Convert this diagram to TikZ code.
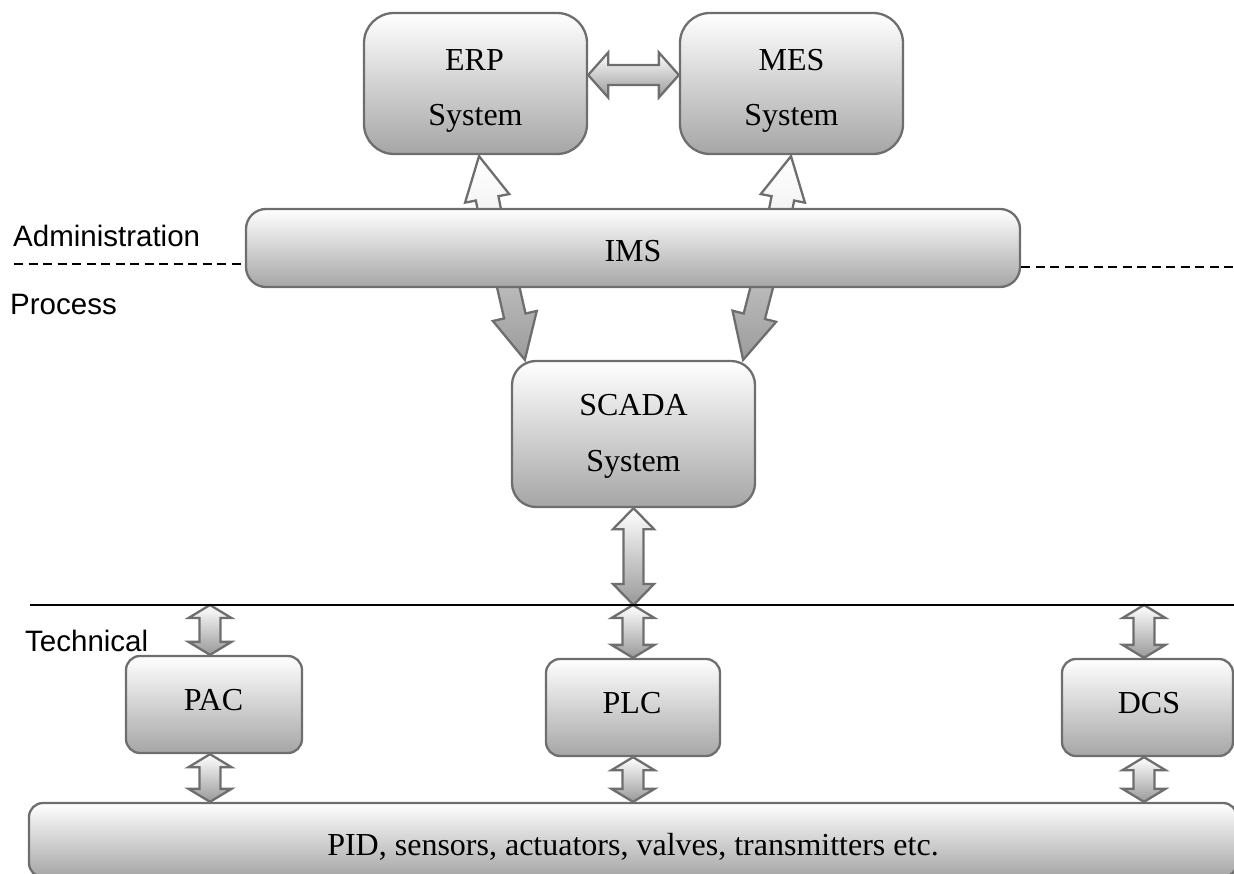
\documentclass[tikz,border=0pt]{standalone}
\usepackage{fontspec}
\setmainfont{Liberation Serif}
\newfontfamily\sidefont{Liberation Sans}
\usetikzlibrary{calc,backgrounds}

\definecolor{edgegray}{HTML}{6E6E6E}

\tikzset{
  box/.style={draw=edgegray, line width=2.3pt, rounded corners=#1,
    top color=white, bottom color=gray!70, inner sep=0pt},
  boxtext/.style={font=\fontsize{32}{38}\selectfont, inner sep=0pt, anchor=base},
  sidetext/.style={font=\sidefont\fontsize{29.5}{35}\selectfont, inner sep=0pt, anchor=base west},
  arrowedge/.style={draw=edgegray, line width=2.3pt, line join=miter},
  palearrow/.style={arrowedge, top color=white, bottom color=gray!14},
  darkarrow/.style={arrowedge, top color=gray!42, bottom color=gray!78},
  linkarrow/.style={arrowedge, top color=white, bottom color=gray!80},
  divider/.style={line width=2.2pt, black},
}

% block arrow with one head: style, tail, tip, shaft half width, head half width, head length
\newcommand\oneway[6]{%
  \coordinate (ow-base) at ($(#3)!#6!(#2)$);
  \path[#1] ($(#2)!#4!90:(#3)$) -- ($(ow-base)!#4!90:(#3)$)
    -- ($(ow-base)!#5!90:(#3)$) -- (#3)
    -- ($(ow-base)!#5!-90:(#3)$) -- ($(ow-base)!#4!-90:(#3)$)
    -- ($(#2)!#4!-90:(#3)$) -- cycle;
}
% block arrow with a head at both ends
\newcommand\twoway[6]{%
  \coordinate (tw-a) at ($(#2)!#6!(#3)$);
  \coordinate (tw-b) at ($(#3)!#6!(#2)$);
  \path[#1] (#2) -- ($(tw-a)!#5!90:(#3)$) -- ($(tw-a)!#4!90:(#3)$)
    -- ($(tw-b)!#4!90:(#3)$) -- ($(tw-b)!#5!90:(#3)$) -- (#3)
    -- ($(tw-b)!#5!-90:(#3)$) -- ($(tw-b)!#4!-90:(#3)$)
    -- ($(tw-a)!#4!-90:(#3)$) -- ($(tw-a)!#5!-90:(#3)$) -- cycle;
}

\begin{document}
\begin{tikzpicture}[x=1pt, y=-1pt]
\useasboundingbox (0,0) rectangle (1234,874);

% enterprise level
\node[box=30pt, minimum width=223pt, minimum height=141pt] (erp) at (475.5,83.5) {};
\node[box=30pt, minimum width=223pt, minimum height=141pt] (mes) at (791.5,83.5) {};
\node[boxtext] (erp-l1) at (474.5,71) {ERP};
\node[boxtext] (erp-l2) at (475.5,126) {System};
\node[boxtext] (mes-l1) at (791.5,71) {MES};
\node[boxtext] (mes-l2) at (791.5,126) {System};

% integration layer
\node[box=20pt, minimum width=774pt, minimum height=78pt] (ims) at (633,248) {};
\node[boxtext] (ims-l) at (633,262) {IMS};

% supervisory level
\node[box=24pt, minimum width=243pt, minimum height=146pt] (scada) at (633.5,434) {};
\node[boxtext] (scada-l1) at (633.5,415.5) {SCADA};
\node[boxtext] (scada-l2) at (633.5,471) {System};

% controllers
\node[box=14pt, minimum width=176pt, minimum height=97pt] (pac) at (214,704.5) {};
\node[box=14pt, minimum width=174pt, minimum height=97pt] (plc) at (633,707.5) {};
\node[box=14pt, minimum width=171pt, minimum height=97pt] (dcs) at (1147.5,707.5) {};
\node[boxtext] (pac-l) at (213.5,710) {PAC};
\node[boxtext] (plc-l) at (632,713) {PLC};
\node[boxtext] (dcs-l) at (1149,713) {DCS};

% field devices
\begin{scope}
  \clip (0,0) rectangle (1234,874);
  \node[box=14pt, minimum width=1208pt, minimum height=74pt] (bar) at (633,840) {};
\end{scope}
\node[boxtext] (bar-l) at (633,855) {PID, sensors, actuators, valves, transmitters etc.};

% level separators
\coordinate (dash-l) at (14,264);
\coordinate (dash-r) at (1234,267);
\draw[divider, dash pattern=on 9pt off 5.5pt] (dash-l) -- (dash-l -| ims.west);
\draw[divider, dash pattern=on 9pt off 5.5pt] (ims.east |- dash-r) -- (dash-r);
\coordinate (tline-l) at (30,605);
\coordinate (tline-r) at (1234,605);
\draw[divider] (tline-l) -- (tline-r);

\node[sidetext] (adm) at (13,247) {Administration};
\node[sidetext] (proc) at (10,315) {Process};
\node[sidetext] (tech) at (25,651) {Technical};

% connector end points
\coordinate (erp-link) at ($(erp.east)+(0,-8.5)$);
\coordinate (mes-link) at ($(mes.west)+(0,-8.5)$);
\coordinate (erp-in) at ($(erp.south)+(3.5,1)$);
\coordinate (mes-in) at ($(mes.south)+(-0.5,1)$);
\coordinate (ims-erp) at ($(ims.north)+(-138,31)$);
\coordinate (ims-mes) at ($(ims.north)+(142,31)$);
\coordinate (ims-s1) at ($(ims.south)+(-133,-37)$);
\coordinate (ims-s2) at ($(ims.south)+(138,-37)$);
\coordinate (scada-in1) at ($(scada.north west)+(14,0)$);
\coordinate (scada-in2) at ($(scada.north east)+(-13,0)$);
\coordinate (scada-out) at (scada.south);
\coordinate (scada-line) at (scada-out |- tline-l);
\coordinate (pac-up) at ($(pac.north)+(-4,0)$);
\coordinate (pac-dn) at ($(pac.south)+(-4,0)$);
\coordinate (pac-line) at (pac-up |- tline-l);
\coordinate (pac-bar) at (pac-dn |- bar.north);
\coordinate (plc-up) at (plc.north);
\coordinate (plc-dn) at (plc.south);
\coordinate (plc-line) at (plc-up |- tline-l);
\coordinate (plc-bar) at (plc-dn |- bar.north);
\coordinate (dcs-up) at ($(dcs.north)+(-3.5,0)$);
\coordinate (dcs-dn) at ($(dcs.south)+(-3.5,0)$);
\coordinate (dcs-line) at (dcs-up |- tline-l);
\coordinate (dcs-bar) at (dcs-dn |- bar.north);

\begin{scope}[on background layer]
  \twoway{linkarrow}{erp-link}{mes-link}{10pt}{22.5pt}{20pt}
  \oneway{palearrow}{ims-erp}{erp-in}{11.5pt}{22.5pt}{43pt}
  \oneway{palearrow}{ims-mes}{mes-in}{11.5pt}{22.5pt}{43pt}
  \oneway{darkarrow}{ims-s1}{scada-in1}{11pt}{22.5pt}{45pt}
  \oneway{darkarrow}{ims-s2}{scada-in2}{11pt}{22.5pt}{45pt}
  \twoway{linkarrow}{scada-out}{scada-line}{10pt}{20.5pt}{21pt}
  \twoway{linkarrow}{pac-line}{pac-up}{10.5pt}{21.5pt}{13pt}
  \twoway{linkarrow}{pac-dn}{pac-bar}{10.5pt}{21.5pt}{13pt}
  \twoway{linkarrow}{plc-line}{plc-up}{10.5pt}{21.5pt}{13pt}
  \twoway{linkarrow}{plc-dn}{plc-bar}{10.5pt}{21.5pt}{13pt}
  \twoway{linkarrow}{dcs-line}{dcs-up}{10.5pt}{21.5pt}{13pt}
  \twoway{linkarrow}{dcs-dn}{dcs-bar}{10.5pt}{21.5pt}{13pt}
\end{scope}
\end{tikzpicture}
\end{document}
